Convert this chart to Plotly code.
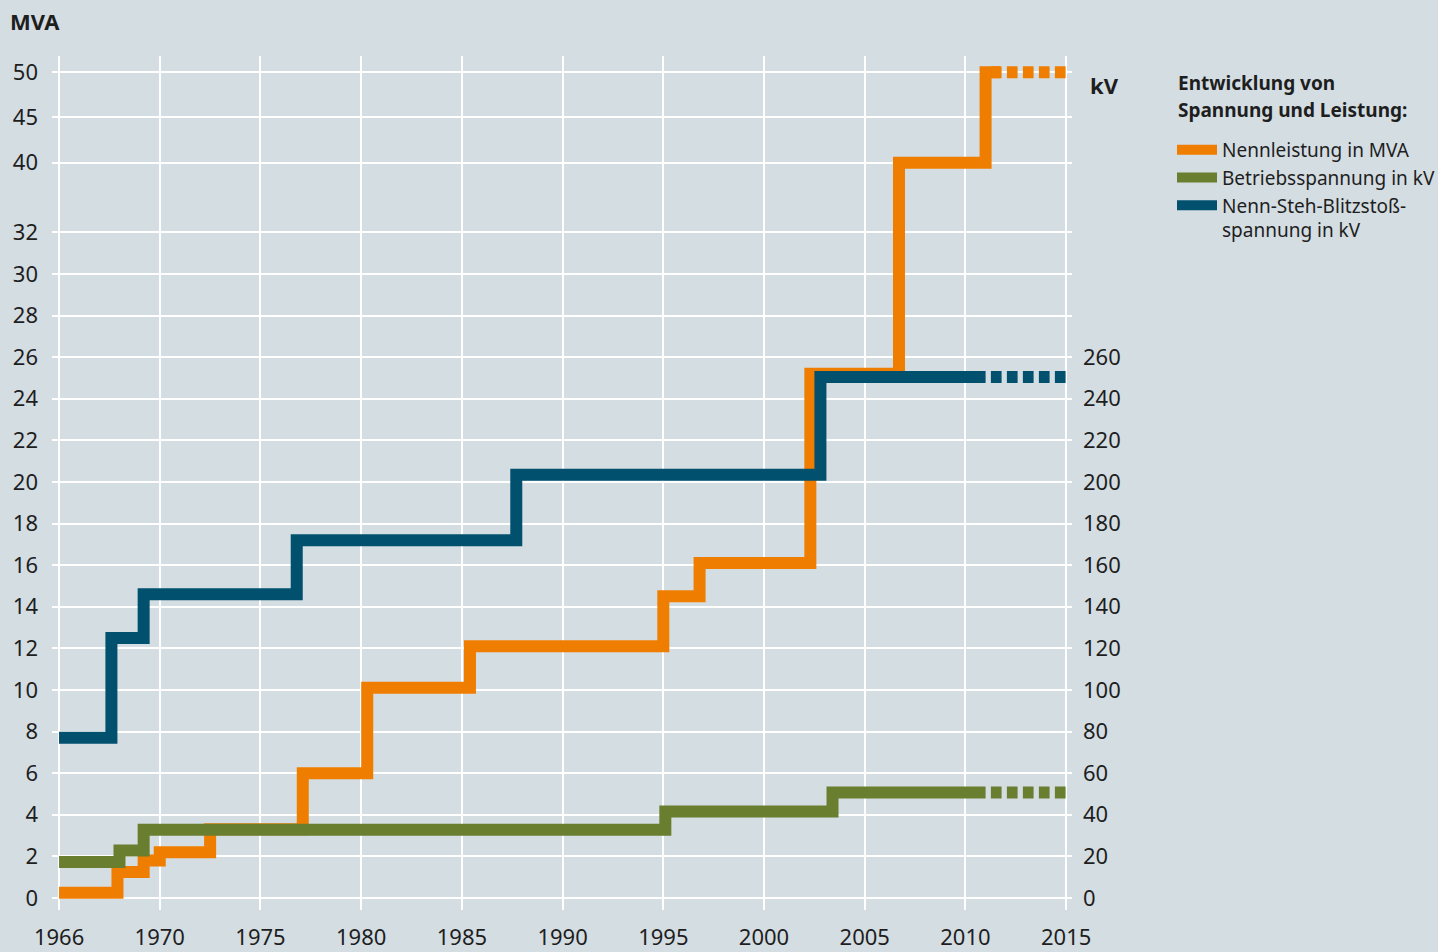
import numpy as np
import plotly.graph_objects as go

# ---------------- data ----------------
# Nennleistung in MVA (step changes: year of change, new level)
mva_years = [1965, 1967.9, 1969.2, 1970.0, 1972.5, 1977.1, 1980.3, 1985.4,
             1995.0, 1996.8, 2002.3, 2006.7, 2011.0, 2011.7]
mva_values = [0.25, 1.25, 1.8, 2.2, 3.3, 6.0, 10.1, 12.1,
              14.5, 16.1, 25.2, 40.0, 50.0, 50.0]
mva_future_years = [2011.0, 2015.0]
mva_future_values = [50.0, 50.0]

# Betriebsspannung in kV
op_years = [1965, 1968.0, 1969.2, 1995.1, 2003.4, 2011.0]
op_values = [17.3, 22.8, 32.8, 41.6, 50.7, 50.7]
op_future_years = [2011.0, 2015.0]
op_future_values = [50.7, 50.7]

# Nenn-Steh-Blitzstossspannung in kV
bil_years = [1965, 1967.6, 1969.2, 1976.8, 1987.7, 2002.8, 2011.0]
bil_values = [77, 125, 146, 172, 203.5, 250.5, 250.5]
bil_future_years = [2011.0, 2015.0]
bil_future_values = [250.5, 250.5]

# tick labels
year_ticks = [1965, 1970, 1975, 1980, 1985, 1990, 1995, 2000, 2005, 2010, 2015]
year_labels = ["1966", "1970", "1975", "1980", "1985", "1990", "1995",
               "2000", "2005", "2010", "2015"]
mva_ticks = [0, 2, 4, 6, 8, 10, 12, 14, 16, 18, 20, 22, 24, 26, 28, 30, 32, 40, 45, 50]
kv_ticks = list(range(0, 261, 20))

# ---------------- broken MVA scale (compressed above 32) ----------------
SCALE_IN = [0, 32, 40, 45, 50]
SCALE_OUT = [0, 32, 35.35, 37.53, 39.7]


def mva_axis(v):
    return np.interp(v, SCALE_IN, SCALE_OUT)


ORANGE = "#EF7D00"
GREEN = "#697F2F"
PETROL = "#00506E"
BG = "#D4DDE2"
TXT = "#1E1E1E"
FONT = "Noto Sans"
LW = 12
DASH = "0px,5.3px,10.7px,0px"

# figure geometry (pixels)
W, H = 1438, 952
ML, MR, MT, MB = 52, 366, 56, 42
PW = W - ML - MR
PH = H - MT - MB


def px_x(px):
    return (px - ML) / PW


def px_y(py):
    return (H - MB - py) / PH


fig = go.Figure()

# green (right axis, kV)
fig.add_trace(go.Scatter(x=op_years, y=op_values, yaxis="y2", mode="lines",
                         line=dict(color=GREEN, width=LW, shape="hv"),
                         name="Betriebsspannung in kV", legendrank=2))
fig.add_trace(go.Scatter(x=op_future_years, y=op_future_values, yaxis="y2", mode="lines",
                         line=dict(color=GREEN, width=LW, dash=DASH),
                         showlegend=False, hoverinfo="skip"))
# petrol (right axis, kV)
fig.add_trace(go.Scatter(x=bil_years, y=bil_values, yaxis="y2", mode="lines",
                         line=dict(color=PETROL, width=LW, shape="hv"),
                         name="Nenn-Steh-Blitzstoß-<br>spannung in kV", legendrank=3))
fig.add_trace(go.Scatter(x=bil_future_years, y=bil_future_values, yaxis="y2", mode="lines",
                         line=dict(color=PETROL, width=LW, dash=DASH),
                         showlegend=False, hoverinfo="skip"))
# orange (left axis, MVA)
fig.add_trace(go.Scatter(x=mva_years, y=mva_axis(mva_values), mode="lines",
                         line=dict(color=ORANGE, width=LW, shape="hv"),
                         customdata=mva_values, hovertemplate="%{x}: %{customdata} MVA<extra></extra>",
                         name="Nennleistung in MVA", legendrank=1))
fig.add_trace(go.Scatter(x=mva_future_years, y=mva_axis(mva_future_values), mode="lines",
                         line=dict(color=ORANGE, width=LW, dash=DASH),
                         showlegend=False, hoverinfo="skip"))

y_lo, y_hi = -0.58, 40.48

fig.update_layout(
    width=W, height=H,
    margin=dict(l=ML, r=MR, t=MT, b=MB, autoexpand=False),
    paper_bgcolor=BG, plot_bgcolor=BG,
    font=dict(family=FONT, size=22, color=TXT),
    xaxis=dict(range=[1964.65, 2015.29], tickvals=year_ticks, ticktext=year_labels,
               showgrid=True, gridcolor="white", gridwidth=2, zeroline=False,
               showline=False, ticks="", ticklabelstandoff=12, automargin=False,
               tickfont=dict(size=22, color=TXT)),
    yaxis=dict(range=[y_lo, y_hi], tickvals=list(mva_axis(mva_ticks)),
               ticktext=[str(t) for t in mva_ticks],
               showgrid=True, gridcolor="white", gridwidth=2, zeroline=False,
               showline=False, ticks="", ticklabelstandoff=13, automargin=False,
               tickfont=dict(size=22, color=TXT)),
    yaxis2=dict(range=[y_lo * 10, y_hi * 10], tickvals=kv_ticks,
                overlaying="y", side="right", showgrid=False, zeroline=False,
                showline=False, ticks="", ticklabelstandoff=10, automargin=False,
                tickfont=dict(size=22, color=TXT)),
    showlegend=True,
    legend=dict(x=px_x(1172), xanchor="left", y=px_y(131), yanchor="top",
                bgcolor="rgba(0,0,0,0)", font=dict(size=19, color=TXT),
                itemwidth=40, valign="top", tracegroupgap=0, itemclick=False),
    annotations=[
        dict(text="<b>MVA</b>", xref="paper", yref="paper", x=px_x(8), y=px_y(21),
             xanchor="left", yanchor="middle", showarrow=False,
             font=dict(size=22, color=TXT)),
        dict(text="<b>kV</b>", xref="paper", yref="paper", x=px_x(1088), y=px_y(85),
             xanchor="left", yanchor="middle", showarrow=False,
             font=dict(size=22, color=TXT)),
        dict(text="<b>Entwicklung von</b>", xref="paper", yref="paper",
             x=px_x(1176), y=px_y(83), xanchor="left", yanchor="middle",
             showarrow=False, font=dict(size=19, color=TXT)),
        dict(text="<b>Spannung und Leistung:</b>", xref="paper", yref="paper",
             x=px_x(1176), y=px_y(110), xanchor="left", yanchor="middle",
             showarrow=False, font=dict(size=19, color=TXT)),
    ],
)

fig.write_html("out.html", config={"displayModeBar": False},
               post_script="document.body.style.margin='0';")
